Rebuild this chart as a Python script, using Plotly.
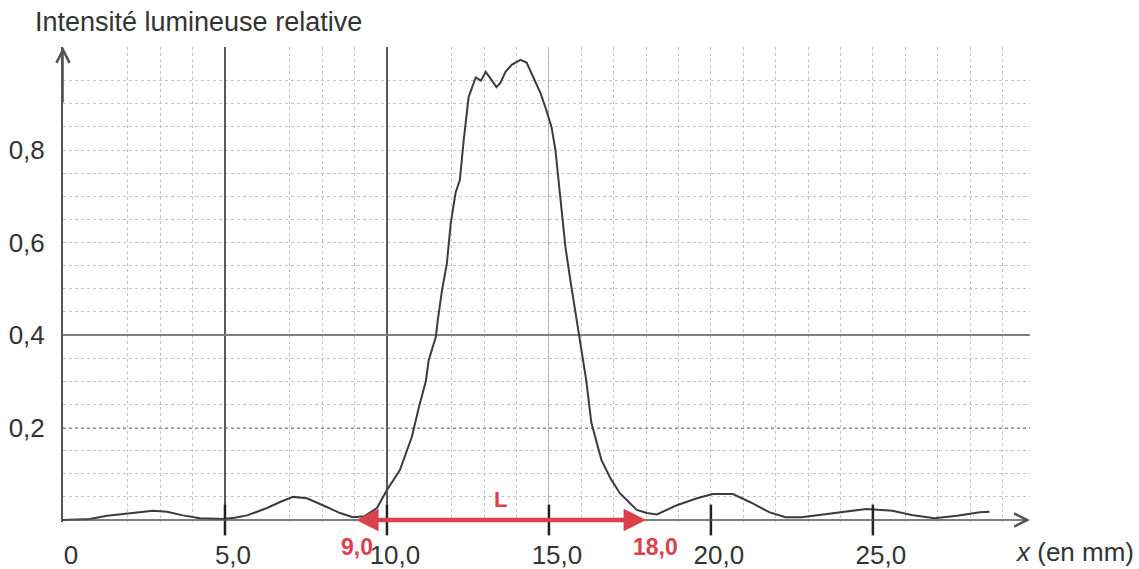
import plotly.graph_objects as go

# ---- data ----
x_mm = [0, 0.5, 0.83, 1.36, 2.07, 2.78, 3.21, 3.7, 4.23, 4.94, 5.3, 5.68, 6.3, 6.7, 7.1,
        7.53, 8.02, 8.55, 8.95, 9.3, 9.69, 10.0, 10.4, 10.77, 10.99, 11.2, 11.29, 11.51,
        11.57, 11.7, 11.85, 11.97, 12.12, 12.25, 12.37, 12.52, 12.6, 12.74, 12.9, 13.05,
        13.23, 13.38, 13.5, 13.66, 13.85, 14.0, 14.12, 14.31, 14.52, 14.74, 14.92, 15.08,
        15.2, 15.29, 15.38, 15.51, 15.66, 15.82, 15.91, 16.0, 16.15, 16.31, 16.62, 16.9,
        17.19, 17.71, 18.02, 18.33, 18.95, 19.57, 20.06, 20.68, 21.2, 21.8, 22.3, 22.8,
        23.36, 24.07, 24.8, 25.6, 26.2, 26.9, 27.6, 28.3, 28.6]
intensity = [0.0, 0.001, 0.002, 0.009, 0.015, 0.02, 0.018, 0.01, 0.004, 0.002, 0.005, 0.01,
             0.026, 0.039, 0.05, 0.047, 0.032, 0.015, 0.006, 0.008, 0.026, 0.065, 0.108,
             0.18, 0.245, 0.30, 0.346, 0.396, 0.432, 0.497, 0.555, 0.642, 0.708, 0.735,
             0.822, 0.914, 0.93, 0.957, 0.95, 0.969, 0.951, 0.936, 0.945, 0.969, 0.984,
             0.99, 0.995, 0.989, 0.958, 0.923, 0.886, 0.85, 0.8, 0.735, 0.677, 0.59, 0.519,
             0.447, 0.404, 0.361, 0.303, 0.21, 0.13, 0.09, 0.058, 0.022, 0.015, 0.012,
             0.032, 0.047, 0.056, 0.056, 0.039, 0.017, 0.006, 0.006, 0.011, 0.017, 0.024,
             0.02, 0.011, 0.004, 0.009, 0.017, 0.018]

x_tick_vals = [0, 5, 10, 15, 20, 25]
x_tick_text = ["0", "5,0", "10,0", "15,0", "20,0", "25,0"]
y_tick_vals = [0.2, 0.4, 0.6, 0.8]
y_tick_text = ["0,2", "0,4", "0,6", "0,8"]
x_minor_grid = [2, 3, 4, 7, 8, 9, 12, 13, 14, 16, 17, 18, 19, 21, 22, 23, 24, 26, 27, 28, 29]
x_solid_grid = [5, 10]
x_light_grid = [15]
y_minor_grid = [0.05, 0.1, 0.15, 0.25, 0.3, 0.35, 0.45, 0.5, 0.55, 0.65, 0.7, 0.75,
                0.85, 0.9, 0.95]
y_solid_grid = [0.4]
y_dark_grid = [0.2]
axis_tick_marks = [5, 10, 15, 20, 25]
L_start, L_end = 9.0, 18.0
L_label_text = ["9,0", "18,0"]

x_range = [0, 29.85]
y_range = [-0.0043, 1.0227]

FONT = "Liberation Sans, Arial, sans-serif"
TXT = "#333333"
RED = "#d9414e"
GRID = "#c4c4c4"

fig = go.Figure()

fig.add_trace(go.Scatter(x=x_mm, y=intensity, mode="lines",
                         line=dict(color="#3c3c3c", width=2), showlegend=False,
                         hoverinfo="skip"))

fig.add_trace(go.Scatter(x=axis_tick_marks, y=[0] * len(axis_tick_marks), mode="markers",
                         marker=dict(symbol="line-ns-open", size=22, color="#222222",
                                     line=dict(color="#222222", width=2.5)),
                         xaxis="x2", yaxis="y2", cliponaxis=False, showlegend=False,
                         hoverinfo="skip"))

fig.update_layout(
    width=1139, height=569,
    margin=dict(l=63, r=109, t=47, b=47),
    plot_bgcolor="white", paper_bgcolor="white",
    font=dict(family=FONT, size=26, color=TXT),
    xaxis=dict(range=x_range, tickmode="array", tickvals=x_tick_vals, ticktext=x_tick_text,
               ticks="outside", ticklen=10, tickcolor="rgba(0,0,0,0)", ticklabelshift=8,
               showline=False, zeroline=False, automargin=False,
               showgrid=True, gridcolor=GRID, griddash="dot", gridwidth=1,
               minor=dict(tickmode="array", tickvals=x_minor_grid, showgrid=True,
                          gridcolor=GRID, griddash="dot", gridwidth=1, ticks=""),
               tickfont=dict(size=26, color=TXT)),
    yaxis=dict(range=y_range, tickmode="array", tickvals=y_tick_vals, ticktext=y_tick_text,
               ticks="outside", ticklen=11, tickcolor="rgba(0,0,0,0)",
               showline=True, linecolor="#555555", linewidth=2, zeroline=False,
               automargin=False,
               showgrid=True, gridcolor=GRID, griddash="dot", gridwidth=1,
               minor=dict(tickmode="array", tickvals=y_minor_grid, showgrid=True,
                          gridcolor=GRID, griddash="dot", gridwidth=1, ticks=""),
               tickfont=dict(size=26, color=TXT)),
    xaxis2=dict(range=x_range, overlaying="x", anchor="y2", tickmode="array",
                tickvals=x_solid_grid, showticklabels=False, ticks="", showline=False,
                zeroline=False, automargin=False, showgrid=True, gridcolor="#5a5a5a",
                gridwidth=1.5,
                minor=dict(tickmode="array", tickvals=x_light_grid, showgrid=True,
                           gridcolor="#a8a8a8", gridwidth=1, ticks="")),
    yaxis2=dict(range=y_range, overlaying="y", anchor="x2", tickmode="array",
                tickvals=y_solid_grid, showticklabels=False, ticks="", showline=False,
                zeroline=False, automargin=False, showgrid=True, gridcolor="#7f7f7f",
                gridwidth=1.5,
                minor=dict(tickmode="array", tickvals=y_dark_grid, showgrid=True,
                           gridcolor="#8a8a8a", griddash="dot", gridwidth=1.5, ticks="")),
)

# plot area in pixels: left 63, right 1030, top 47, bottom 522
PW, PH = 967.0, 475.0

annotations = [
    # y-axis arrow head
    dict(x=0, y=y_range[1], ax=0, ay=0.9, xref="x", yref="y", axref="x", ayref="y",
         text="", showarrow=True, arrowhead=5, arrowsize=1.6, arrowwidth=1.6,
         arrowcolor="#555555"),
    # x-axis line with arrow head
    dict(x=x_range[1], y=0, ax=0, ay=0, xref="x", yref="y", axref="x", ayref="y",
         text="", showarrow=True, arrowhead=5, arrowsize=1.6, arrowwidth=1.6,
         arrowcolor="#555555"),
    # red double arrow L
    dict(x=L_end, y=0, ax=L_start, ay=0, xref="x", yref="y", axref="x", ayref="y",
         text="", showarrow=True, arrowside="end+start", arrowhead=2, startarrowhead=2,
         arrowsize=1, startarrowsize=1, arrowwidth=4.5, arrowcolor=RED),
    dict(x=(L_start + L_end) / 2, y=0, xref="x", yref="y", yshift=21, text="<b>L</b>",
         showarrow=False, font=dict(size=22, color=RED)),
    dict(x=L_start, y=0, xref="x", yref="y", xshift=2, yshift=-27,
         text="<b>%s</b>" % L_label_text[0], showarrow=False, font=dict(size=23, color=RED)),
    dict(x=L_end, y=0, xref="x", yref="y", xshift=9, yshift=-27,
         text="<b>%s</b>" % L_label_text[1], showarrow=False, font=dict(size=23, color=RED)),
    # axis titles
    dict(x=(33 - 63) / PW, y=(522 - 22) / PH, xref="paper", yref="paper", xanchor="left",
         yanchor="middle", text="Intensité lumineuse relative", showarrow=False,
         font=dict(size=27, color=TXT)),
    dict(x=(1013 - 63) / PW, y=(522 - 552) / PH, xref="paper", yref="paper",
         xanchor="left", yanchor="middle", text="<i>x</i> (en mm)", showarrow=False,
         font=dict(size=26, color=TXT)),
]
fig.update_layout(annotations=annotations)

fig.write_html("out.html", config={"displayModeBar": False},
               post_script="document.body.style.margin='0';")
